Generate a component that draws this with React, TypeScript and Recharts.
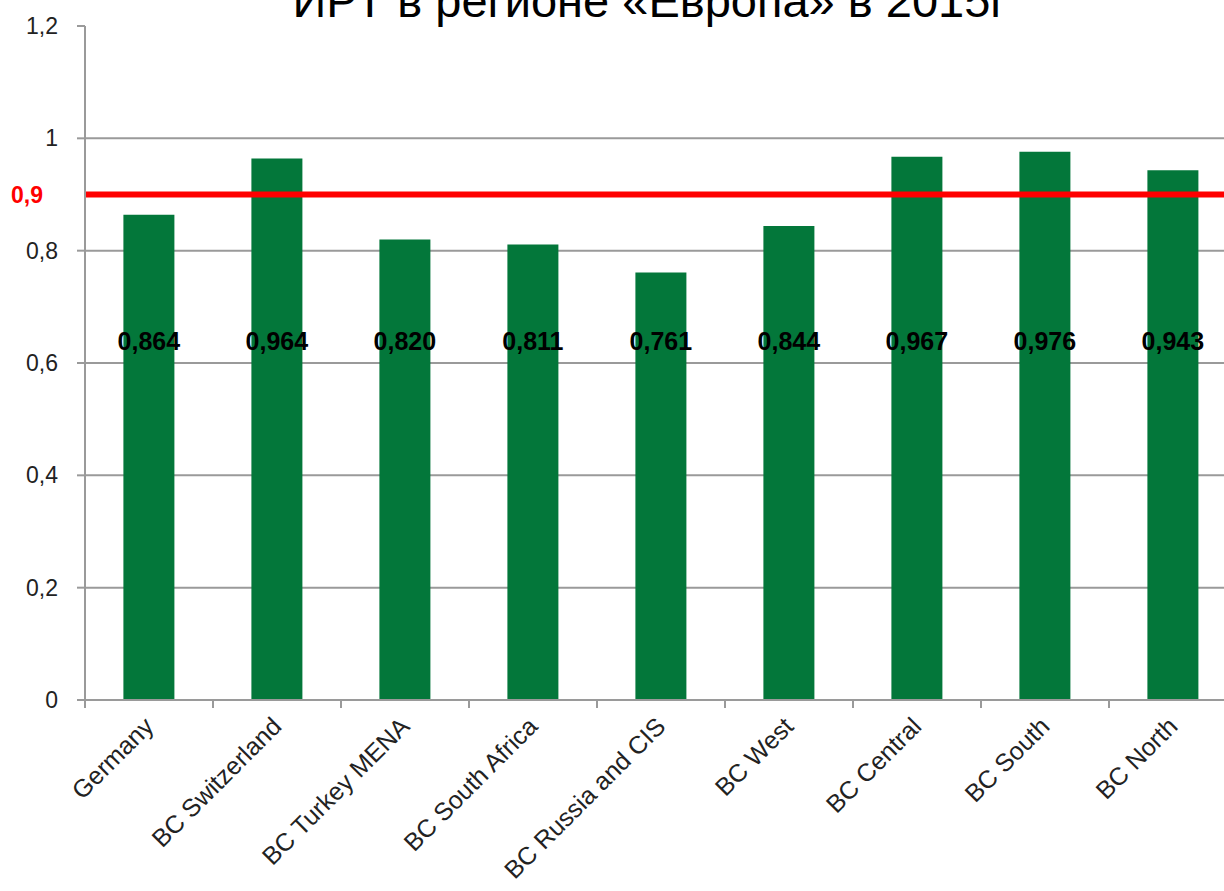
import React from "react";
import {
  BarChart,
  Bar,
  XAxis,
  YAxis,
  CartesianGrid,
  ReferenceLine,
  LabelList,
} from "recharts";

const categories = [
  "Germany",
  "BC Switzerland",
  "BC Turkey MENA",
  "BC South Africa",
  "BC Russia and CIS",
  "BC West",
  "BC Central",
  "BC South",
  "BC North",
];
const values = [0.864, 0.964, 0.82, 0.811, 0.761, 0.844, 0.967, 0.976, 0.943];
const yTicks = [0, 0.2, 0.4, 0.6, 0.8, 1, 1.2];
const gridValues = [0.2, 0.4, 0.6, 0.8, 1];
const target = 0.9;
const title = "ИРТ в регионе «Европа» в 2015г";
const labelLevel = 0.64;

const data = categories.map((name, i) => ({ name, value: values[i] }));

const FONT = "'Liberation Sans', Arial, sans-serif";
const GREEN = "#03773a";
const AXIS = "#9a9a9a";

const fmt = (v: number, d?: number) => {
  const s = d === undefined ? String(v) : v.toFixed(d);
  return s.replace(".", ",");
};

const XTick = (props: any) => {
  const { x, y, payload } = props;
  const half = payload && payload.offset ? payload.offset : 64;
  return (
    <g>
      <line x1={x - half} x2={x - half} y1={y} y2={y + 8} stroke={AXIS} strokeWidth={2} />
      <text
        x={x + 6}
        y={y + 28}
        textAnchor="end"
        transform={`rotate(-45 ${x + 6} ${y + 28})`}
        fill="#222"
        fontSize={25}
        fontFamily={FONT}
      >
        {payload.value}
      </text>
    </g>
  );
};

export default function App() {
  const plotTop = 26;
  const plotBottom = 700;
  const plotH = plotBottom - plotTop;
  const ValueLabel = (props: any) => {
    const { x, y, width, height, value } = props;
    const base = y + height;
    const ly = base - (labelLevel / 1.2) * plotH;
    return (
      <text
        x={x + width / 2}
        y={ly}
        textAnchor="middle"
        dominantBaseline="central"
        fill="#000"
        fontWeight="bold"
        fontSize={25}
        fontFamily={FONT}
      >
        {fmt(value, 3)}
      </text>
    );
  };
  return (
    <div
      style={{
        position: "absolute",
        left: 0,
        top: 0,
        width: 1224,
        height: 891,
        overflow: "hidden",
        background: "#fff",
      }}
    >
      <BarChart
        width={1240}
        height={891}
        data={data}
        margin={{ top: plotTop, right: 3, left: 0, bottom: 891 - plotBottom - 100 }}
        barCategoryGap="30%"
      >
        <CartesianGrid
          vertical={false}
          stroke={AXIS}
          strokeWidth={2}
          horizontalValues={gridValues}
        />
        <XAxis
          dataKey="name"
          interval={0}
          height={100}
          tickLine={false}
          tickSize={0}
          tickMargin={0}
          axisLine={{ stroke: AXIS, strokeWidth: 2 }}
          tick={<XTick />}
        />
        <YAxis
          width={85}
          domain={[0, 1.2]}
          ticks={yTicks}
          interval={0}
          tickSize={8}
          tickMargin={19}
          tickLine={{ stroke: AXIS, strokeWidth: 2 }}
          axisLine={{ stroke: AXIS, strokeWidth: 2 }}
          tickFormatter={(v: number) => fmt(v)}
          tick={{ fill: "#222", fontSize: 23, fontFamily: FONT }}
        />
        <Bar dataKey="value" fill={GREEN} isAnimationActive={false}>
          <LabelList dataKey="value" content={<ValueLabel />} />
        </Bar>
        <ReferenceLine
          y={target}
          stroke="#ff0000"
          strokeWidth={6}
          label={{
            value: fmt(target),
            position: "left",
            offset: 42,
            fill: "#ff0000",
            fontWeight: "bold",
            fontSize: 23,
            fontFamily: FONT,
          }}
        />
      </BarChart>
      <svg
        width={1224}
        height={60}
        style={{ position: "absolute", left: 0, top: 0, pointerEvents: "none" }}
      >
        <text
          x={650}
          y={17}
          textAnchor="middle"
          fontSize={47}
          fontFamily={FONT}
          fill="#000"
        >
          {title}
        </text>
      </svg>
    </div>
  );
}
